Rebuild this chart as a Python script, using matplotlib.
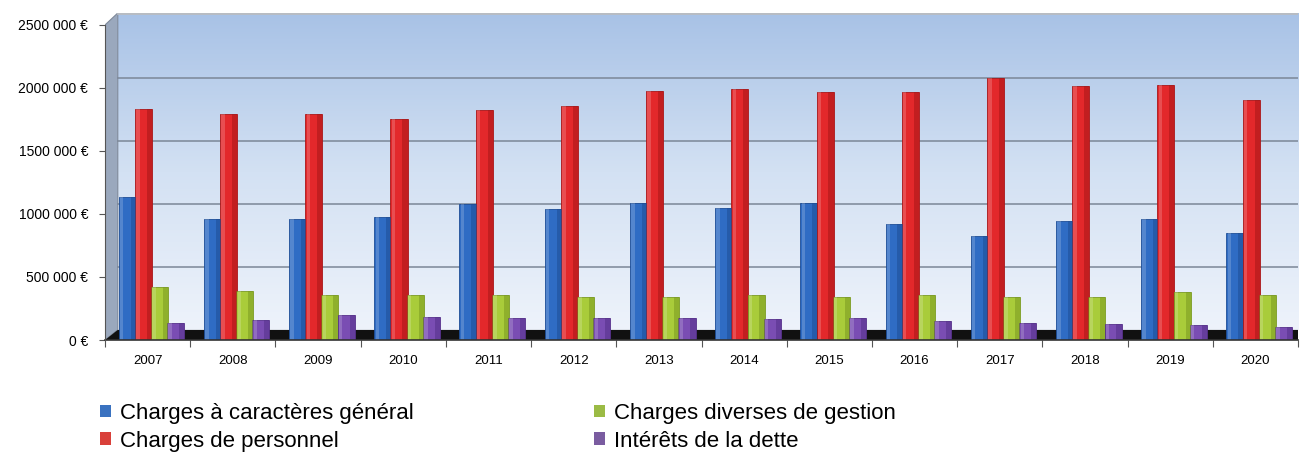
import numpy as np
import matplotlib.pyplot as plt
from matplotlib.patches import Patch, Polygon
from matplotlib.ticker import FuncFormatter
from matplotlib.colors import LinearSegmentedColormap

plt.rcParams['font.family'] = ['Liberation Sans', 'DejaVu Sans']

## donnees (euros)
annees = ['2007', '2008', '2009', '2010', '2011', '2012', '2013',
          '2014', '2015', '2016', '2017', '2018', '2019', '2020']
charges_generales = [1135000, 960000, 960000, 976000, 1079000, 1040000, 1087000,
                     1048000, 1087000, 921000, 825000, 944000, 960000, 849000]
charges_personnel = [1833000, 1794000, 1794000, 1754000, 1825000, 1857000, 1976000,
                     1992000, 1968000, 1968000, 2079000, 2016000, 2024000, 1905000]
charges_gestion = [420000, 389000, 357000, 357000, 357000, 341000, 341000,
                   357000, 341000, 357000, 341000, 341000, 381000, 357000]
interets_dette = [135000, 159000, 198000, 183000, 175000, 175000, 175000,
                  167000, 175000, 151000, 135000, 127000, 119000, 103000]

series = [charges_generales, charges_personnel, charges_gestion, interets_dette]
noms = ['Charges à caractères général', 'Charges de personnel',
        'Charges diverses de gestion', 'Intérêts de la dette']
couleurs = ['#2f6cc4', '#e3282b', '#a9cc3a', '#7a4db3']
cotes = ['#1d4d96', '#a81618', '#7a9a22', '#55308a']
legende_couleurs = ['#3a72c0', '#d9403a', '#9bbb45', '#7a5ca0']

W, H = 1301, 453
fig = plt.figure(figsize=(W/100, H/100), dpi=100)
ax = fig.add_axes([105/W, (H-340)/H, (1298-105)/W, 327/H])

ymax = 2595000
ax.set_xlim(-0.5, 13.5)
ax.set_ylim(0, ymax)

## fond du mur arriere en degrade
grad = np.linspace(0, 1, 256).reshape(-1, 1)
cmap = LinearSegmentedColormap.from_list('mur', ['#eef3fb', '#d3e1f3', '#a8c2e6'])
ax.imshow(grad, extent=[-0.35, 13.5, 80000, ymax], origin='lower', cmap=cmap,
          aspect='auto', zorder=0)
## mur de cote
ax.add_patch(Polygon([(-0.5, 0), (-0.35, 80000), (-0.35, ymax), (-0.5, 2500000)],
                     closed=True, facecolor='#9aa8bd', edgecolor='#7d8899', lw=0.8, zorder=0.5))
## sol noir
ax.add_patch(Polygon([(-0.5, 0), (-0.35, 80000), (13.5, 80000), (13.5, 0)],
                     closed=True, facecolor='#111111', edgecolor='none', zorder=0.6))
## lignes de la grille sur le mur du fond
for v in [500000, 1000000, 1500000, 2000000]:
    ax.plot([-0.35, 13.5], [v + 80000, v + 80000], color='#7b8797', lw=1.1, zorder=0.7)
ax.plot([-0.35, 13.5], [ymax, ymax], color='#b8bcc2', lw=2, zorder=0.7)

x = np.arange(len(annees))
decal = [-0.24, -0.05, 0.14, 0.33]
larg = 0.2
for s, d, c, cc in zip(series, decal, couleurs, cotes):
    ax.bar(x + d, s, width=larg, color=c, edgecolor=cc, linewidth=0.6, zorder=2)
    ax.bar(x + d + larg/2 - 0.03, s, width=0.06, color=cc, alpha=0.55, linewidth=0, zorder=2.1)
    ax.bar(x + d - larg/2 + 0.035, s, width=0.04, color='white', alpha=0.18, linewidth=0, zorder=2.1)

## axes
for sp in ax.spines.values():
    sp.set_visible(False)
ax.plot([-0.5, 13.5], [0, 0], color='#333333', lw=1.2, zorder=3, clip_on=False)
ax.plot([-0.5, -0.5], [0, 2500000], color='#555555', lw=0.8, zorder=3, clip_on=False)

ax.set_yticks([0, 500000, 1000000, 1500000, 2000000, 2500000])
ax.yaxis.set_major_formatter(FuncFormatter(
    lambda v, p: '0 €' if v == 0 else f'{int(v // 1000)} 000 €'))
ax.tick_params(axis='y', length=4, width=0.8, color='#555555', labelsize=10, pad=8)
ax.set_xticks(x)
ax.set_xticklabels(annees)
ax.set_xticks(np.arange(-0.5, 14, 1), minor=True)
ax.tick_params(axis='x', which='major', length=0, labelsize=9.5, pad=11)
ax.tick_params(axis='x', which='minor', length=5, width=0.8, color='#555555')

## legende
poignees = [Patch(facecolor=c, edgecolor='none') for c in legende_couleurs]
fig.legend(poignees, noms, ncol=2, loc='upper left', bbox_to_anchor=(100/W, 1 - 403/H),
           frameon=False, fontsize=16, handlelength=0.5, handleheight=0.5,
           handletextpad=0.4, labelspacing=0.3, columnspacing=8.1, borderaxespad=0,
           borderpad=0)

fig.savefig('out.png', dpi=100)
